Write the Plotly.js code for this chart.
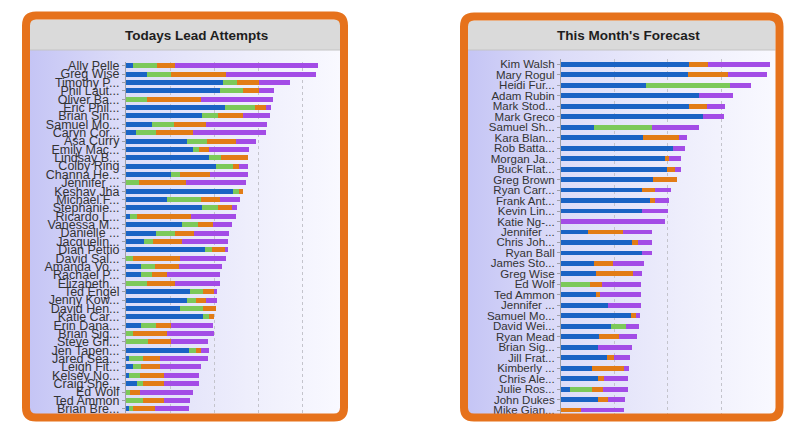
<!DOCTYPE html>
<html>
<head>
<meta charset="utf-8">
<script src="https://cdn.plot.ly/plotly-3.0.1.min.js"></script>
<style>html,body{margin:0;padding:0;background:#fff;}#chart{width:800px;height:429px;}</style>
</head>
<body>
<div id="chart"></div>
<script>
// ---------- DATA ----------
const leadNames = ["Ally Pelle","Greg Wise","Timothy P...","Phil Laut...","Oliver Ba...","Eric Phil...","Brian Sin...","Samuel Mo...","Caryn Cor...","Asa Curry","Emily Mac...","Lindsay B...","Colby Ring","Channa He...","Jennifer ...","Keshav Jha","Michael F...","Stephanie...","Ricardo L...","Vanessa M...","Danielle ...","Jacquelin...","Dian Pettio","David Sal...","Amanda Vo...","Rachael P...","Elizabeth...","Ted Engel","Jenny Kow...","David Hen...","Katie Car...","Erin Dana...","Brian Sig...","Steve Gri...","Jen Tapen...","Jared Sea...","Leigh Fit...","Kelsey No...","Craig She...","Ed Wolf","Ted Ammon","Brian Bre..."];
const leadBlue   = [1.5,4.7,22.1,21.3,0,22.5,17.2,5.8,2.2,13.8,15.2,18.8,20.5,10.2,0,24.4,9.4,17.2,0.8,12.8,6.9,4.2,17.9,0,3.4,3.4,0,14.6,13.8,12.2,17.5,3.4,0,0,14.4,0.6,1.7,0.6,2.5,0,0,0.6];
const leadGreen  = [5.5,5.6,3.2,5.2,4.7,6.8,3.6,5.2,4.7,4.5,1.4,2.8,3.7,2.1,3,1.3,7.7,3.6,1.7,3.6,4.2,1.9,1.7,1.7,3.2,2.5,4.7,2.8,2.2,5.3,1.3,3.3,1.5,5,1.6,3.3,1.6,2.5,1.4,0.9,3.9,1.1];
const leadOrange = [4.2,12.3,5,3.7,12.4,2.4,5.7,7.2,8.3,6.7,2.2,6.2,1.5,6.8,10.6,0.8,4.3,3.2,12.2,3.3,4.4,6.7,2.8,10.5,5.5,3.3,6.4,2.5,2.2,3,1.1,3.5,7.7,5.2,1.1,3.8,4.5,5.5,4.7,2.2,4.7,4.9];
const leadPurple = [32.3,20.5,7,3.5,16.3,1.2,6.1,13.8,16.5,4.5,9.2,0,1.9,8.5,13.7,0,4.5,1.1,10.2,4.3,8,10.4,0.8,10.4,9.8,12.1,10.2,0.8,2.5,0,0,9.6,10.7,8.5,1.7,11,9.3,7.9,7.9,12.1,6,7.8];

const fcNames = ["Kim Walsh","Mary Rogul","Heidi Fur...","Adam Rubin","Mark Stod...","Mark Greco","Samuel Sh...","Kara Blan...","Rob Batta...","Morgan Ja...","Buck Flat...","Greg Brown","Ryan Carr...","Frank Ant...","Kevin Lin...","Katie Ng-...","Jennifer ...","Chris Joh...","Ryan Ball","James Sto...","Greg Wise","Ed Wolf","Ted Ammon","Jennifer ...","Samuel Mo...","David Wei...","Ryan Mead","Brian Sig...","Jill Frat...","Kimberly ...","Chris Ale...","Julie Ros...","John Dukes","Mike Gian..."];
const fcBlue   = [24,23.75,15.9,25.9,24,26.7,6.25,15.3,20.9,19.5,19.8,17.3,15.2,16.7,15.2,0,5,13.25,15.2,6.25,6.6,0,6.6,8.75,13.1,9.4,7.1,6.9,8.6,5.75,6.9,1.75,6.9,0];
const fcGreen  = [0,0,15.75,0,0,0,10.8,0,0,0,0,0,0,0,0,0,0,0,0,0,0,5.4,0,0,0,2.75,0,0,0,0,0,4,0,0];
const fcOrange = [3.6,7.5,0,0,3.4,0,0,6.9,0,0.8,1.5,4.4,2.5,1,0,0,6.6,1.2,0,3.4,6.8,2.25,0.75,0,0.9,0,3.8,0,1.4,6.1,1.1,2.2,1.9,3.75];
const fcPurple = [11.5,7.4,4,6.4,3.4,3.9,8.9,1.5,2.3,2.1,1.1,0,2.9,2.6,4.9,19.4,5.5,2.6,1.9,5.9,1.7,7.3,7.6,6.2,0.75,2.5,3.4,6.4,3,0.9,4.6,4.6,3.2,8];

const titles = ["Todays Lead Attempts", "This Month's Forecast"];

// ---------- STYLE ----------
const W = 800, H = 429;
const colors = {blue:"#1a63c4", green:"#7cc95a", orange:"#e27c16", purple:"#a34ce6"};
const FONT = "Liberation Sans, Arial, sans-serif";
const px = x => x / W;
const py = y => 1 - y / H;

function makeTraces(names, series, xa, ya, barW) {
  const idx = names.map((_, i) => i);
  const keys = ["blue","green","orange","purple"];
  return series.map((vals, k) => ({
    type: "bar", orientation: "h",
    x: vals, y: idx, xaxis: xa, yaxis: ya,
    width: barW,
    marker: {color: colors[keys[k]], line: {width: 0}},
    hoverinfo: "x", showlegend: false
  }));
}

const traces = [
  ...makeTraces(leadNames, [leadBlue, leadGreen, leadOrange, leadPurple], "x", "y", 0.6),
  ...makeTraces(fcNames, [fcBlue, fcGreen, fcOrange, fcPurple], "x2", "y2", 0.46)
];

function rrPath(x0, y0, x1, y1, r) {
  const P = (x, y) => px(x).toFixed(5) + "," + py(y).toFixed(5);
  return "M" + P(x0 + r, y0) + " L" + P(x1 - r, y0) + " Q" + P(x1, y0) + " " + P(x1, y0 + r) +
         " L" + P(x1, y1 - r) + " Q" + P(x1, y1) + " " + P(x1 - r, y1) +
         " L" + P(x0 + r, y1) + " Q" + P(x0, y1) + " " + P(x0, y1 - r) +
         " L" + P(x0, y0 + r) + " Q" + P(x0, y0) + " " + P(x0 + r, y0) + " Z";
}

const panels = [
  {outer:[26,15.5,344,417.5], inner:[30,19.5,340,414], head:50, title:196},
  {outer:[464,16.5,779.5,417.5], inner:[468,20.5,775.5,414], head:50, title:628}
];

const gradSvg = "<svg xmlns='http://www.w3.org/2000/svg' width='200' height='200'>" +
  "<defs><linearGradient id='g' x1='0' x2='1' y1='0' y2='0'>" +
  "<stop offset='0' stop-color='#c5c5f5'/><stop offset='0.3' stop-color='#dcdcf8'/>" +
  "<stop offset='0.7' stop-color='#eeeefc'/><stop offset='1' stop-color='#f9f9ff'/>" +
  "</linearGradient></defs><rect width='200' height='200' fill='url(#g)'/></svg>";
const gradUri = "data:image/svg+xml;charset=utf-8," + encodeURIComponent(gradSvg);

const shapes = [], images = [], annotations = [];
panels.forEach((p, i) => {
  const [ix0, iy0, ix1, iy1] = p.inner;
  // header band
  shapes.push({type:"rect", xref:"paper", yref:"paper", layer:"below",
    x0:px(ix0), x1:px(ix1), y0:py(p.head), y1:py(iy0),
    fillcolor:"#dadada", line:{width:0}});
  shapes.push({type:"line", xref:"paper", yref:"paper", layer:"below",
    x0:px(ix0), x1:px(ix1), y0:py(p.head), y1:py(p.head),
    line:{color:"#c4c4c4", width:1}});
  // gradient plot background
  images.push({source:gradUri, xref:"paper", yref:"paper", layer:"below",
    x:px(ix0), y:py(p.head), sizex:px(ix1) - px(ix0), sizey:py(p.head) - py(iy1),
    xanchor:"left", yanchor:"top", sizing:"stretch"});
  // orange rounded frame
  const [ox0, oy0, ox1, oy1] = p.outer;
  shapes.push({type:"path", xref:"paper", yref:"paper", layer:"above",
    path: rrPath(ox0, oy0, ox1, oy1, 10), line:{color:"#e6721c", width:8}, fillcolor:"rgba(0,0,0,0)"});
  annotations.push({text:titles[i], xref:"paper", yref:"paper", x:px(p.title), y:py(35),
    xanchor:"center", yanchor:"middle", showarrow:false,
    font:{family:FONT, size:13.5, color:"#1e1e1e", weight:"bold"}});
});

function yAxis(names, domainTop, domainBottom, anchor, size) {
  return {
    domain:[py(domainBottom), py(domainTop)], anchor:anchor,
    tickmode:"array", tickvals:names.map((_, i) => i), ticktext:names,
    range:[names.length - 0.5, -0.5],
    showgrid:false, zeroline:false, showline:true, linecolor:"#a0a0a8", linewidth:1,
    ticks:"outside", ticklen:3, tickcolor:"#a0a0a8",
    tickfont:{family:FONT, size:size, color:"#333"}, fixedrange:true
  };
}
function xAxis(x0, x1, maxV, anchor) {
  return {
    domain:[px(x0), px(x1)], anchor:anchor, range:[0, maxV],
    showticklabels:false, ticks:"", showgrid:true, dtick:10, tick0:0,
    gridcolor:"#c4c4cc", griddash:"dot", gridwidth:1, zeroline:false, showline:false,
    fixedrange:true
  };
}

const layout = {
  width:W, height:H, margin:{l:0, r:0, t:0, b:0},
  paper_bgcolor:"#ffffff", plot_bgcolor:"rgba(0,0,0,0)",
  barmode:"stack", bargap:0.4,
  xaxis: xAxis(126, 340, 48.6, "y"),
  yaxis: yAxis(leadNames, 61.5, 413, "x", 12.5),
  xaxis2: xAxis(561, 775, 40.1, "y2"),
  yaxis2: yAxis(fcNames, 59.1, 415.3, "x2", 11.5),
  shapes: shapes, images: images, annotations: annotations,
  showlegend:false
};

Plotly.newPlot("chart", traces, layout, {displayModeBar:false, staticPlot:true});
</script>
</body>
</html>
